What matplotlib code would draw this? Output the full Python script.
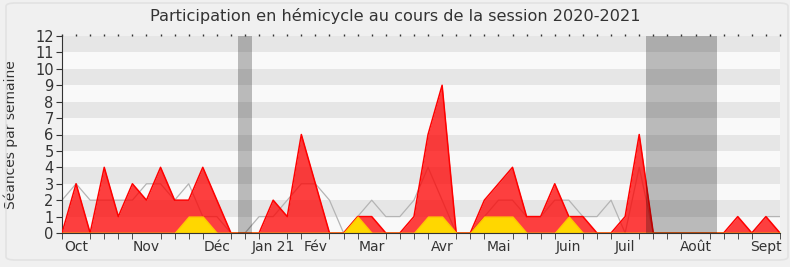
import matplotlib.pyplot as plt
from matplotlib.patches import FancyBboxPatch
import numpy as np

# séances par semaine (une valeur par semaine, session 2020-2021)
presences = [0, 3, 0, 4, 1, 3, 2, 4, 2, 2, 4, 2, 0, 0, 0, 2, 1, 6, 3, 0,
             0, 1, 1, 0, 0, 1, 6, 9, 0, 0, 2, 3, 4, 1, 1, 3, 1, 1, 0, 0,
             1, 6, 0, 0, 0, 0, 0, 0, 1, 0, 1, 0]
mediane = [2, 3, 2, 2, 2, 2, 3, 3, 2, 3, 1, 1, 0, 0, 1, 1, 2, 3, 3, 2,
           0, 1, 2, 1, 1, 2, 4, 2, 0, 0, 1, 2, 2, 1, 1, 2, 2, 1, 1, 2,
           0, 4, 0, 0, 0, 0, 0, 0, 0, 0, 1, 1]
questions = [0, 0, 0, 0, 0, 0, 0, 0, 0, 1, 1, 0, 0, 0, 0, 0, 0, 0, 0, 0,
             0, 1, 0, 0, 0, 0, 1, 1, 0, 0, 1, 1, 1, 0, 0, 0, 1, 0, 0, 0,
             0, 0, 0, 0, 0, 0, 0, 0, 0, 0, 0, 0]
vacances = [(12.5, 13.5), (41.5, 46.5)]
mois = ["Oct", "Nov", "Déc", "Jan 21", "Fév", "Mar", "Avr", "Mai",
        "Juin", "Juil", "Août", "Sept"]
mois_pos = [1, 6, 11, 15, 18, 22, 27, 31, 36, 40, 45, 50]

semaines = np.arange(len(presences))

fig = plt.figure(figsize=(7.9, 2.67), dpi=100, facecolor="#f0f0f0")
fig.patches.append(FancyBboxPatch((6 / 790, 7 / 267), 782 / 790, 257 / 267,
                                  boxstyle="round,pad=0,rounding_size=0.012",
                                  transform=fig.transFigure, facecolor="none",
                                  edgecolor="#e2e2e2", linewidth=1.2))
ax = fig.add_axes([62 / 790, 34 / 267, 718 / 790, 197 / 267])
ax.set_facecolor("#f9f9f9")

for k in range(1, 12, 2):
    ax.axhspan(k, k + 1, color="#e6e6e6", zorder=0, linewidth=0)

ax.plot(semaines, mediane, color="#b4b4b4", linewidth=0.9, zorder=1)
ax.fill_between(semaines, presences, color="#ff0000", alpha=0.75, linewidth=0, zorder=2)
ax.plot(semaines, presences, color="#ff0000", linewidth=1.1, zorder=3)
ax.fill_between(semaines, questions, color="#ffd700", linewidth=1, edgecolor="#ffc800", zorder=4)

for a, b in vacances:
    ax.axvspan(a, b, color="black", alpha=0.25, linewidth=0, zorder=5)

ax.set_xlim(0, len(presences) - 1)
ax.set_ylim(0, 12)
ax.set_yticks(range(0, 13))
ax.set_xticks(mois_pos)
ax.set_xticklabels(mois)
ax.set_xticks(semaines, minor=True)
ax.tick_params(axis="x", which="major", length=0, pad=5, labelsize=10, colors="#333333")
ax.tick_params(axis="x", which="minor", length=4, direction="out", color="#333333")
ax.tick_params(axis="y", length=4, labelsize=10.5, colors="#333333", pad=2)

# petits points en haut
haut = ax.secondary_xaxis("top")
haut.set_xticks(semaines)
haut.tick_params(length=1.2, width=1, color="#333333", labeltop=False)
haut.spines["top"].set_visible(False)

for s in ["top", "right"]:
    ax.spines[s].set_visible(False)
ax.spines["left"].set_color("#333333")
ax.spines["bottom"].set_color("#333333")
ax.spines["bottom"].set_zorder(6)

ax.set_ylabel("Séances par semaine", fontsize=10, color="#333333")
ax.yaxis.set_label_coords(-0.061, 0.5)
fig.suptitle("Participation en hémicycle au cours de la session 2020-2021",
             fontsize=11.6, color="#333333", y=0.97)

plt.savefig("out.png", dpi=100, facecolor=fig.get_facecolor())
